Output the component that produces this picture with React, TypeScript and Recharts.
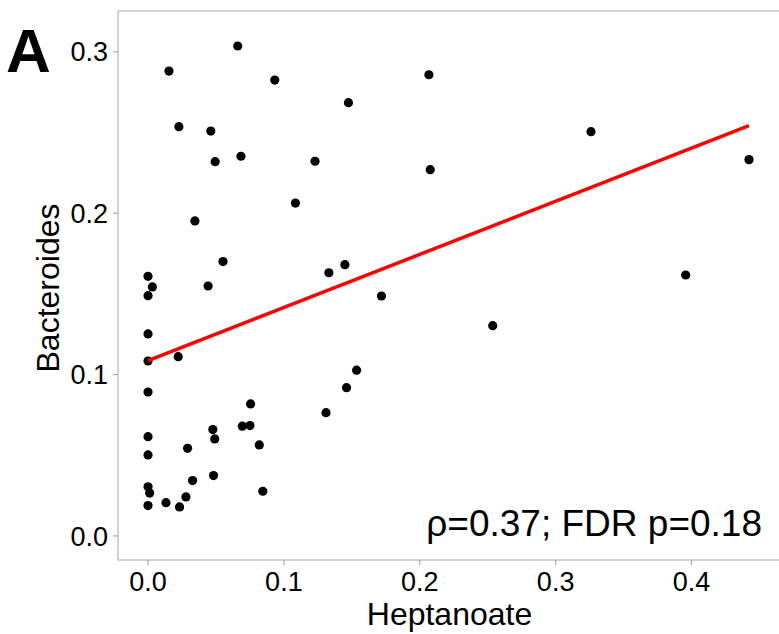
import React from "react";
import {
  ScatterChart,
  Scatter,
  XAxis,
  YAxis,
  ReferenceArea,
  Customized,
} from "recharts";

// Heptanoate (x) and Bacteroides (y) per sample
const heptanoate = [
  0.066, 0.0154, 0.0933, 0.1475, 0.0227, 0.0462, 0.0494, 0.0684, 0.1229, 0.1085,
  0.0345, 0.0552, 0.0, 0.1331, 0.1449, 0.0032, 0.0, 0.0442, 0.0, 0.0,
  0.0222, 0.0, 0.1461, 0.131, 0.0755, 0.0694, 0.075, 0.0477, 0.0491, 0.0819,
  0.0, 0.0291, 0.0, 0.0482, 0.0328, 0.0845, 0.0, 0.0012, 0.0132, 0.0279,
  0.0232, 0.0, 0.2067, 0.326, 0.2077, 0.4423, 0.3957, 0.1718, 0.2537, 0.1535,
];
const bacteroides = [
  0.3036, 0.2881, 0.2825, 0.2685, 0.2536, 0.2509, 0.2319, 0.2353, 0.2322, 0.2063,
  0.1952, 0.17, 0.1609, 0.1631, 0.1681, 0.1543, 0.1489, 0.1549, 0.1252, 0.1084,
  0.1111, 0.0892, 0.0919, 0.0764, 0.0818, 0.068, 0.0684, 0.0659, 0.0601, 0.0564,
  0.0615, 0.0543, 0.0502, 0.0374, 0.0343, 0.0277, 0.0305, 0.0266, 0.0206, 0.0242,
  0.018, 0.0188, 0.2858, 0.2505, 0.227, 0.2332, 0.1617, 0.1487, 0.1303, 0.1027,
];

// Linear fit endpoints
const fitX = [0, 0.4423];
const fitY = [0.1086, 0.2543];

const xTicks = [0, 0.1, 0.2, 0.3, 0.4];
const yTicks = [0, 0.1, 0.2, 0.3];
const xDomain = [-0.0221, 0.4666];
const yDomain = [-0.0149, 0.3253];

const xTitle = "Heptanoate";
const yTitle = "Bacteroides";
const annotation = "ρ=0.37; FDR p=0.18";
const panelTag = "A";

const points = heptanoate.map((x, i) => ({ x, y: bacteroides[i] }));
const fitLine = fitX.map((x, i) => ({ x, y: fitY[i] }));

const FONT = "'Liberation Sans', Arial, Helvetica, sans-serif";
const fmt = (v: number) => v.toFixed(1);

const Dot = (p: any) => <circle cx={p.cx} cy={p.cy} r={4.6} fill="#000" />;

const Overlay = () => (
  <g>
    <text
      x={6}
      y={72}
      fontSize={62}
      fontWeight="bold"
      fontFamily={FONT}
      fill="#000"
    >
      {panelTag}
    </text>
    <text
      x={762}
      y={536}
      fontSize={37}
      textAnchor="end"
      fontFamily={FONT}
      fill="#000"
    >
      {annotation}
    </text>
    <text
      x={0}
      y={0}
      transform="translate(59, 288) rotate(-90)"
      fontSize={32}
      textAnchor="middle"
      fontFamily={FONT}
      fill="#000"
    >
      {yTitle}
    </text>
    <text
      x={449.5}
      y={625}
      fontSize={32}
      textAnchor="middle"
      fontFamily={FONT}
      fill="#000"
    >
      {xTitle}
    </text>
  </g>
);

export default function App() {
  return (
    <div
      style={{
        position: "absolute",
        left: 0,
        top: 0,
        width: 779,
        height: 634,
        background: "#fff",
        fontFamily: FONT,
        overflow: "hidden",
      }}
    >
      <ScatterChart
        width={782}
        height={634}
        margin={{ top: 11, right: 0, bottom: 0, left: 0 }}
      >
        <XAxis
          type="number"
          dataKey="x"
          domain={xDomain}
          ticks={xTicks}
          tickFormatter={fmt}
          allowDataOverflow
          height={74}
          axisLine={false}
          tickSize={5}
          tickMargin={7}
          tickLine={{ stroke: "#a8a8a8", strokeWidth: 1.2 }}
          tick={{ fill: "#000", fontSize: 27, fontFamily: FONT }}
        />
        <YAxis
          type="number"
          dataKey="y"
          domain={yDomain}
          ticks={yTicks}
          tickFormatter={fmt}
          allowDataOverflow
          width={118}
          axisLine={false}
          tickSize={5}
          tickMargin={5}
          tickLine={{ stroke: "#a8a8a8", strokeWidth: 1.2 }}
          tick={{ fill: "#000", fontSize: 27, fontFamily: FONT }}
        />
        <ReferenceArea
          x1={xDomain[0]}
          x2={xDomain[1]}
          y1={yDomain[0]}
          y2={yDomain[1]}
          fill="none"
          stroke="#c4c4c4"
          strokeWidth={1.5}
          ifOverflow="visible"
        />
        <Scatter data={points} shape={Dot} isAnimationActive={false} />
        <Scatter
          data={fitLine}
          line={{ stroke: "#ff0000", strokeWidth: 3.5 }}
          shape={() => null}
          isAnimationActive={false}
        />
        <Customized component={Overlay} />
      </ScatterChart>
    </div>
  );
}
